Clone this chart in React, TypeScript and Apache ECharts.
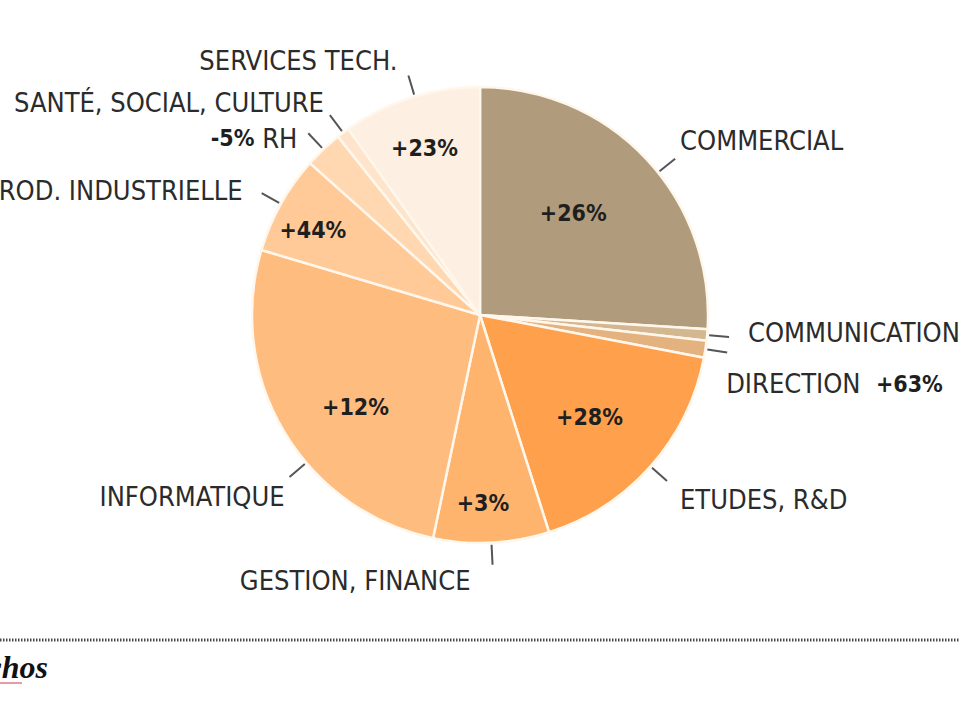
import React, { useEffect, useRef } from 'react';
import * as echarts from 'echarts';

// ---- data ----
const categories = [
  'COMMERCIAL',
  'COMMUNICATION',
  'DIRECTION',
  'ETUDES, R&D',
  'GESTION, FINANCE',
  'INFORMATIQUE',
  'PROD. INDUSTRIELLE',
  'RH',
  'SANTÉ, SOCIAL, CULTURE',
  'SERVICES TECH.',
];
const shares = [26.0, 0.8, 1.2, 17.1, 8.2, 26.3, 7.0, 2.7, 0.9, 9.8];
const changes = ['+26%', '', '+63%', '+28%', '+3%', '+12%', '+44%', '-5%', '', '+23%'];
const changeInside = [true, false, false, true, true, true, true, false, false, true];
const colors = [
  '#b19b7d', '#d2b790', '#e4b27e', '#fea04c', '#ffb46e',
  '#ffbc7f', '#ffca98', '#ffd7b0', '#fde4ca', '#fdefe1',
];

// ---- layout ----
const CX = 480;
const CY = 315;
const R = 228;
const TICK = 22;
const FONT = '"DejaVu Sans Condensed", "Liberation Sans Narrow", "DejaVu Sans", sans-serif';
const tickShift = [4.5, 0, 0, 0, 0, -9.6, 0, 0, 0, 1];
const nameOffset: [number, number, 'left' | 'right'][] = [
  [5, -18, 'left'],
  [19, -4, 'left'],
  [-1, 31, 'left'],
  [13, 19, 'left'],
  [-22, 16, 'right'],
  [-5, 20, 'right'],
  [-19, -3, 'right'],
  [-11, 5, 'right'],
  [-6, -13, 'right'],
  [-11, -15, 'right'],
];
const insideOffset: [number, number][] = [
  [8, -22], [0, 0], [0, 0], [22, 24], [-3, 71],
  [-24, 32], [-65, -28], [0, 0], [0, 0], [-20, -56],
];

export default function App() {
  const ref = useRef<HTMLDivElement>(null);
  useEffect(() => {
    if (!ref.current) return;
    const chart = echarts.init(ref.current, undefined, { renderer: 'svg' });
    const data = categories.map((name, i) => ({
      name,
      value: shares[i],
      itemStyle: { color: colors[i] },
    }));
    const dataB = categories.map((name, i) => ({ name, value: shares[i] }));

    const rot = (q: number[], deg: number) => {
      const a = (deg * Math.PI) / 180;
      const dx = q[0] - CX;
      const dy = q[1] - CY;
      return [CX + dx * Math.cos(a) - dy * Math.sin(a), CY + dx * Math.sin(a) + dy * Math.cos(a)];
    };

    chart.setOption({
      animation: false,
      backgroundColor: '#ffffff',
      series: [
        {
          type: 'pie',
          center: [CX, CY],
          radius: [0, R],
          startAngle: 90,
          clockwise: true,
          avoidLabelOverlap: false,
          silent: true,
          emphasis: { disabled: true },
          itemStyle: { borderColor: '#fff7ec', borderWidth: 2.5 },
          label: {
            show: true,
            position: 'outside',
            fontFamily: FONT,
            fontSize: 27,
            color: '#2b2b2b',
            formatter: (p: any) => {
              const i = p.dataIndex;
              const name = categories[i];
              const ch = changeInside[i] ? '' : changes[i];
              if (!ch) return `{n|${name}}`;
              return nameOffset[i][2] === 'left'
                ? `{n|${name}}  {b|${ch}}`
                : `{b|${ch}} {n|${name}}`;
            },
            rich: {
              n: { fontFamily: FONT, fontSize: 27, color: '#2b2b2b' },
              b: { fontFamily: FONT, fontSize: 23, fontWeight: 'bold', color: '#1f1f1f' },
            },
          },
          labelLine: {
            show: true,
            length: TICK,
            length2: 0,
            smooth: false,
            lineStyle: { color: '#555555', width: 2 },
          },
          labelLayout: (p: any) => {
            const i = p.dataIndex;
            const pts = p.labelLinePoints;
            if (!pts || pts.length < 2) return {};
            const q0 = rot(pts[0], tickShift[i]);
            const q1 = rot(pts[1], tickShift[i]);
            const ux = q1[0] - q0[0];
            const uy = q1[1] - q0[1];
            const l = Math.hypot(ux, uy) || 1;
            const s = [q0[0] + (ux / l) * 2, q0[1] + (uy / l) * 2];
            const o = nameOffset[i];
            return {
              x: q1[0] + o[0],
              y: q1[1] + o[1],
              align: o[2],
              verticalAlign: 'middle',
              labelLinePoints: [s, q1, q1],
            };
          },
          data,
        },
        {
          type: 'pie',
          center: [CX, CY],
          radius: [0, R],
          startAngle: 90,
          clockwise: true,
          silent: true,
          emphasis: { disabled: true },
          itemStyle: { color: 'rgba(0,0,0,0)', borderWidth: 0 },
          label: {
            show: true,
            position: 'inside',
            fontFamily: FONT,
            fontSize: 23,
            fontWeight: 'bold',
            color: '#1f1f1f',
            formatter: (p: any) => (changeInside[p.dataIndex] ? changes[p.dataIndex] : ''),
          },
          labelLine: { show: false },
          labelLayout: (p: any) => {
            const o = insideOffset[p.dataIndex];
            const r = p.labelRect;
            return {
              x: r.x + r.width / 2 + o[0],
              y: r.y + r.height / 2 + o[1],
              align: 'center',
              verticalAlign: 'middle',
            };
          },
          data: dataB,
        },
      ],
      graphic: [
        {
          type: 'line',
          shape: { x1: 0, y1: 640, x2: 960, y2: 640 },
          style: { stroke: '#4a4a4a', lineWidth: 3, lineDash: [1.5, 1.5] },
          silent: true,
        },
        {
          type: 'text',
          x: 48,
          y: 667,
          style: {
            text: 'Echos',
            align: 'right',
            verticalAlign: 'middle',
            fontFamily: '"Liberation Serif", "DejaVu Serif", serif',
            fontStyle: 'italic',
            fontWeight: 'bold',
            fontSize: 32,
            fill: '#111111',
          },
          silent: true,
        },
        {
          type: 'rect',
          shape: { x: 0, y: 682, width: 22, height: 2 },
          style: { fill: '#e79aa5' },
          silent: true,
        },
      ],
    });
    return () => chart.dispose();
  }, []);
  return (
    <div
      ref={ref}
      style={{ position: 'fixed', left: 0, top: 0, width: 960, height: 720 }}
    />
  );
}
